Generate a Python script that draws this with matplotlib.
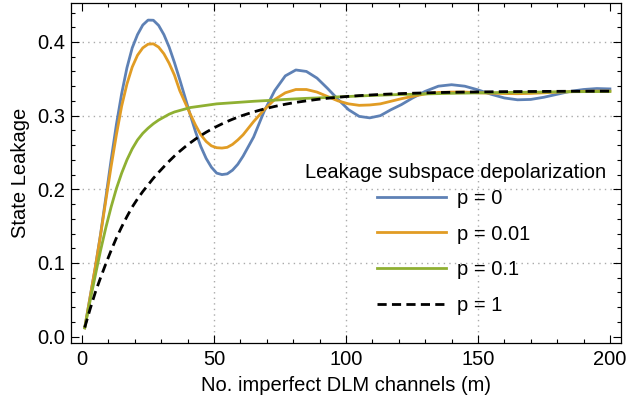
import matplotlib
matplotlib.use("Agg")
import matplotlib.pyplot as plt
from matplotlib.ticker import MultipleLocator

# -----------------------------
# Data
# -----------------------------
m_vals = [1, 3, 5, 7, 9, 11, 13, 15, 17, 19, 21, 23, 25, 27, 29, 31, 33, 35, 37, 39,
          41, 43, 45, 47, 49, 51, 53, 55, 57, 59, 61,
          65, 69, 73, 77, 81, 85, 89, 93, 97, 101, 105, 109, 113, 117, 121,
          125, 130, 135, 140, 145, 150, 155, 160, 165, 170, 175, 180, 185, 190, 195, 200]

leak_p0 = [0.012, 0.053, 0.094, 0.139, 0.189, 0.240, 0.288, 0.330, 0.365, 0.392,
           0.410, 0.4230, 0.4297, 0.4295, 0.4225, 0.410, 0.393, 0.372, 0.349, 0.325,
           0.301, 0.278, 0.258, 0.242, 0.230, 0.222, 0.220, 0.221, 0.226, 0.234, 0.245,
           0.271, 0.306, 0.334, 0.354, 0.3620, 0.3600, 0.351, 0.337, 0.322, 0.308, 0.299,
           0.297, 0.300, 0.308, 0.315,
           0.3235, 0.333, 0.340, 0.342, 0.340, 0.335, 0.329, 0.324, 0.3215, 0.322,
           0.325, 0.329, 0.333, 0.3355, 0.3368, 0.3363]

leak_p001 = [0.012, 0.053, 0.094, 0.138, 0.185, 0.231, 0.274, 0.313, 0.343, 0.366,
             0.382, 0.392, 0.397, 0.3975, 0.393, 0.384, 0.371, 0.355, 0.334, 0.318,
             0.302, 0.287, 0.274, 0.265, 0.259, 0.2565, 0.256, 0.257, 0.261, 0.267, 0.274,
             0.292, 0.308, 0.322, 0.331, 0.3355, 0.3355, 0.332, 0.326, 0.320, 0.316, 0.314,
             0.3145, 0.316, 0.3195, 0.323,
             0.326, 0.3295, 0.3315, 0.332, 0.332, 0.331, 0.3305, 0.330, 0.3298, 0.3302,
             0.331, 0.332, 0.3325, 0.333, 0.3333, 0.3333]

leak_p01 = [0.012, 0.048, 0.083, 0.117, 0.148, 0.176, 0.201, 0.222, 0.240, 0.255,
            0.267, 0.276, 0.283, 0.289, 0.294, 0.298, 0.302, 0.305, 0.307, 0.309,
            0.311, 0.312, 0.313, 0.314, 0.315, 0.316, 0.3165, 0.317, 0.3175, 0.318, 0.3185,
            0.3195, 0.3203, 0.321, 0.322, 0.3228, 0.3235, 0.324, 0.3247, 0.3255, 0.326, 0.3267,
            0.3273, 0.3278, 0.3283, 0.3287,
            0.329, 0.3295, 0.3299, 0.3303, 0.3306, 0.3309, 0.3312, 0.3315, 0.3317, 0.3319,
            0.3321, 0.3323, 0.3325, 0.3326, 0.3327, 0.3328]

leak_p1 = [0.0124, 0.037, 0.060, 0.080, 0.099, 0.117, 0.134, 0.149, 0.163, 0.176,
           0.187, 0.197, 0.206, 0.215, 0.223, 0.2307, 0.2382, 0.2452, 0.2516, 0.2576,
           0.2631, 0.2683, 0.2730, 0.2775, 0.2815, 0.2853, 0.2888, 0.2921, 0.2951, 0.2979, 0.3005,
           0.3051, 0.3091, 0.3125, 0.3155, 0.3180, 0.3201, 0.3220, 0.3236, 0.3250, 0.3262, 0.3272,
           0.3280, 0.3288, 0.3294, 0.3300,
           0.3304, 0.3309, 0.3314, 0.3317, 0.3320, 0.3322, 0.3324, 0.3326, 0.3327, 0.3328,
           0.3329, 0.3330, 0.3331, 0.3331, 0.3332, 0.3332]

labels = ["p = 0", "p = 0.01", "p = 0.1", "p = 1"]
colors = ["#5E81B5", "#E19C24", "#8FB032", "black"]
legend_title = "Leakage subspace depolarization"

FS = 14.5

# -----------------------------
# Figure
# -----------------------------
plt.rcParams["font.family"] = ["Liberation Sans", "DejaVu Sans"]

fig = plt.figure(figsize=(6.26, 4.05), dpi=100)
ax = fig.add_axes([71 / 626, 1 - 343.3 / 405, 550 / 626, 340 / 405])

series = [leak_p0, leak_p001, leak_p01, leak_p1]
for vals, lab, col in zip(series, labels, colors):
    if col == "black":
        ax.plot(m_vals, vals, color=col, lw=2.0, dashes=(3.3, 1.9), label=lab, zorder=4)
    else:
        ax.plot(m_vals, vals, color=col, lw=2.0, label=lab, zorder=3,
                solid_joinstyle="round")

ax.set_xlim(-4.2, 204.2)
ax.set_ylim(-0.009, 0.4525)

ax.xaxis.set_major_locator(MultipleLocator(50))
ax.xaxis.set_minor_locator(MultipleLocator(10))
ax.yaxis.set_major_locator(MultipleLocator(0.1))
ax.yaxis.set_minor_locator(MultipleLocator(0.02))
ax.yaxis.set_major_formatter(plt.FuncFormatter(lambda v, p: f"{v:.1f}"))

ax.tick_params(which="both", direction="in", top=True, right=True, width=0.8,
               colors="black", labelsize=FS)
ax.tick_params(which="major", length=5.5)
ax.tick_params(axis="x", which="major", pad=5)
ax.tick_params(axis="y", which="major", pad=4)
ax.tick_params(which="minor", length=3.2)

for sp in ax.spines.values():
    sp.set_linewidth(0.9)
    sp.set_color("black")

# dotted grid
for xv in [50, 100, 150]:
    ax.axvline(xv, color="#AAAAAA", lw=1.0, ls=(0, (1, 3)), zorder=1)
for yv in [0.1, 0.2, 0.3, 0.4]:
    ax.axhline(yv, color="#AAAAAA", lw=1.0, ls=(0, (1, 3)), zorder=1)

ax.set_xlabel("No. imperfect DLM channels (m)", fontsize=FS, labelpad=5)
ax.set_ylabel("State Leakage", fontsize=FS, labelpad=5)

# legend: title as separate text, entries below
fig.text(455.5 / 626, 1 - 173 / 405, legend_title, fontsize=FS,
         ha="center", va="center")
ax.legend(loc="center left", bbox_to_anchor=(377 / 626, 1 - 252 / 405),
          bbox_transform=fig.transFigure, frameon=False, fontsize=FS,
          handlelength=3.43, handletextpad=0.55, labelspacing=0.84,
          borderpad=0, borderaxespad=0)

fig.savefig("out.png", dpi=100)
